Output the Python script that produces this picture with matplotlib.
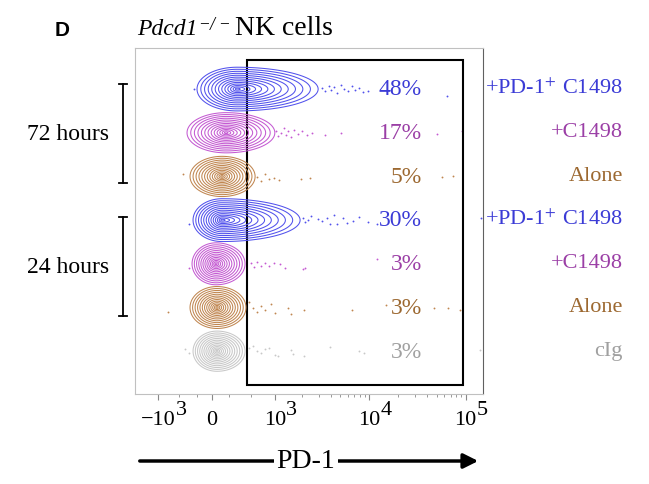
import numpy as np
import matplotlib
matplotlib.use('Agg')
import matplotlib.pyplot as plt
import matplotlib.transforms as mtransforms
from matplotlib.patches import Rectangle

plt.rcParams['font.family'] = 'Liberation Serif'
plt.rcParams['mathtext.fontset'] = 'stix'

# populations, top to bottom
labels = ['+PD-1$^{+}$ C1498', '+C1498', 'Alone', '+PD-1$^{+}$ C1498', '+C1498', 'Alone', 'cIg']
percents = ['48%', '17%', '5%', '30%', '3%', '3%', '3%']
line_colors = ['#5252ec', '#c45ad2', '#c08650', '#5252ec', '#c45ad2', '#c08650', '#c8c8c8']
text_colors = ['#3b3bd6', '#9b3fa6', '#9c6830', '#3b3bd6', '#9b3fa6', '#9c6830', '#a0a0a0']

# contour extents (PD-1): peak, left edge and right edge of outermost contour
peak = [297, 160, 113, 113, 45, 56, 56]
left_edge = [-202, -354, -306, -260, -275, -306, -260]
right_edge = [2940, 1000, 573, 1895, 410, 424, 410]
half_height = [0.50, 0.46, 0.46, 0.49, 0.48, 0.48, 0.46]

# single events outside the contours (PD-1 value, vertical offset in row)
dot_pd1 = [
    [-250, 3250, 3500, 3780, 4000, 4290, 4620, 5110, 5480, 6060, 6570, 7190, 7780, 8600, 9720, 63700],
    [1030, 1100, 1180, 1260, 1340, 1420, 1530, 1650, 1780, 1970, 2240, 2530, 3500, 5110, 49900, 92000],
    [-420, 600, 680, 760, 850, 976, 1120, 1930, 2420, 56300, 74000],
    [-330, 2030, 2150, 2320, 2500, 2950, 3250, 3600, 3950, 4290, 4620, 5300, 5900, 6800, 7780, 9720, 12100, 144000],
    [-330, 500, 550, 600, 680, 760, 850, 976, 1150, 1300, 2030, 2150, 12100],
    [-720, 470, 530, 600, 680, 760, 900, 1000, 1420, 1530, 2100, 6570, 14800, 47400, 66000, 87700],
    [-380, -330, 470, 530, 600, 680, 760, 850, 1000, 1100, 1530, 1600, 2100, 3950, 7780, 8900, 140000],
]
dot_dy = [
    [0.0, 0.02, -0.05, 0.08, -0.02, 0.05, -0.08, 0.1, 0.0, -0.05, 0.06, -0.03, 0.02, -0.07, -0.04, -0.15],
    [0.05, -0.08, 0.0, 0.1, -0.05, 0.03, -0.1, 0.07, -0.02, 0.04, -0.06, 0.0, -0.04, 0.0, -0.02, 0.03],
    [0.05, -0.02, -0.1, 0.05, -0.06, -0.03, -0.08, -0.05, -0.04, -0.02, 0.0],
    [-0.1, 0.05, -0.05, 0.0, 0.1, 0.02, -0.03, 0.06, -0.08, 0.12, -0.1, 0.04, -0.06, -0.02, 0.08, -0.04, -0.08, 0.05],
    [-0.1, 0.02, -0.08, 0.04, -0.04, 0.02, -0.06, 0.03, 0.0, -0.1, -0.12, -0.1, 0.12],
    [-0.1, 0.12, -0.02, -0.1, 0.03, -0.06, 0.08, -0.12, 0.0, -0.15, -0.05, -0.05, 0.05, 0.0, 0.0, -0.05],
    [0.05, -0.05, 0.08, 0.12, 0.0, -0.05, 0.04, 0.07, -0.08, -0.12, 0.02, -0.06, -0.12, 0.1, 0.0, -0.05, 0.02],
]

tick_vals = [-1000, 0, 1000, 1e4, 1e5]
tick_base = ['\u221210', '0', '10', '10', '10']
tick_exp = ['3', '', '3', '4', '5']
gate = (440, 94000)

# biexponential-like display: asinh, with negative side compressed
A = 470.0
NEG = 0.857


def fwd(x):
    x = np.asarray(x, dtype=float)
    u = np.arcsinh(x / A)
    return np.where(u < 0, u * NEG, u)


def inv(u):
    u = np.asarray(u, dtype=float)
    return np.where(u < 0, A * np.sinh(u / NEG), A * np.sinh(u))


R = 2.4
fig = plt.figure(figsize=(6.49, 4.84), dpi=100)
ax = fig.add_axes([135 / 649, 90 / 484, 348 / 649, 346 / 484])
ax.set_xscale('function', functions=(fwd, inv))

ut = np.linspace(-2.0, 6.6, 900)
yy = np.linspace(-0.75, 0.75, 260)
U, Y = np.meshgrid(ut, yy)
radii = R * (np.arange(13, 0, -1) / 13) ** 1.25
levels = np.sort(np.exp(-0.5 * radii ** 2))

n = len(labels)
for i in range(n):
    y0 = n - 1 - i
    c = fwd(peak[i])
    sl = (c - fwd(left_edge[i])) / R
    sr = (fwd(right_edge[i]) - c) / R
    sy = half_height[i] / R
    s = np.where(U < c, sl, sr)
    Z = np.exp(-0.5 * ((U - c) / s) ** 2 - 0.5 * (Y / sy) ** 2)
    ax.contour(inv(U), Y + y0, Z, levels=levels, colors=line_colors[i], linewidths=0.75)
    ax.scatter(dot_pd1[i], np.array(dot_dy[i]) + y0, s=1.8, color=line_colors[i], lw=0)

trans = mtransforms.blended_transform_factory(ax.transAxes, ax.transData)
for i in range(n):
    y0 = n - 1 - i
    ax.text(0.825, y0 - 0.02, percents[i], ha='right', va='center', color=text_colors[i],
            fontsize=17, transform=trans)
    ax.text(1.402, y0, labels[i], ha='right', va='center', color=text_colors[i],
            fontsize=16, transform=trans, clip_on=False)

ax.add_patch(Rectangle((gate[0], -0.78), gate[1] - gate[0], 7.44, fill=False, ec='k', lw=1.5))

# time brackets
for top, bot, txt in [(6.12, 3.85, '72 hours'), (3.07, 0.80, '24 hours')]:
    ax.plot([-0.0345, -0.0345], [top, bot], color='k', lw=1.3, transform=trans, clip_on=False)
    for yb in (top, bot):
        ax.plot([-0.045, -0.022], [yb, yb], color='k', lw=1.3, transform=trans, clip_on=False)
    ax.text(-0.1925, (top + bot) / 2 - 0.02, txt, ha='center', va='center', fontsize=17,
            transform=trans)

ax.set_xlim(-1980, 151400)
ax.set_ylim(-0.98, 6.94)
ax.set_yticks([])
ax.set_xticks(tick_vals, labels=[''] * len(tick_vals))
minor = [-500, -200, 200, 500] + [k * 10 ** e for e in (3, 4) for k in range(2, 10)]
ax.set_xticks(minor, minor=True)
ax.tick_params(axis='x', which='major', length=4, color='#888888')
ax.tick_params(axis='x', which='minor', length=2, color='#888888')
for side in ['left', 'top', 'bottom']:
    ax.spines[side].set_color('#c0c0c0')
ax.spines['right'].set_color('#606060')

# tick labels with full-size exponents
xt = ax.get_xaxis_transform()
bases = []
for v, b in zip(tick_vals, tick_base):
    bases.append(ax.text(v, -31 / 346, b, ha='center', va='baseline', fontsize=16,
                         transform=xt, clip_on=False))
fig.canvas.draw()
rend = fig.canvas.get_renderer()
for t, e in zip(bases, tick_exp):
    if e:
        bb = t.get_window_extent(rend)
        fig.text(bb.x1 / fig.bbox.width, (bb.y0 + 15) / fig.bbox.height, e,
                 fontsize=16, va='baseline')

# axis arrow
ya = 1 - 461 / 484
ax.annotate('', xy=(481 / 649, ya), xytext=(137 / 649, ya), xycoords='figure fraction',
            textcoords='figure fraction',
            arrowprops=dict(arrowstyle='-|>', lw=2.5, color='k', mutation_scale=22))
fig.text(306 / 649, ya, 'PD-1', ha='center', va='center', fontsize=20,
         bbox=dict(fc='white', ec='none', pad=2))

# title pieces
tb = 1 - 35 / 484
fig.text(137 / 649, tb, 'Pdcd1', fontsize=17, style='italic', va='baseline')
fig.text(199 / 649, 1 - 28 / 484, '\u2212', fontsize=12.5, va='baseline')
fig.text(210 / 649, 1 - 30 / 484, '/', fontsize=13, style='italic', va='baseline')
fig.text(219 / 649, 1 - 28 / 484, '\u2212', fontsize=12.5, va='baseline')
fig.text(235 / 649, tb, 'NK cells', fontsize=20, va='baseline')
fig.text(62 / 649, 1 - 31 / 484, 'D', family='Liberation Sans', fontweight='bold',
         fontsize=15, ha='center', va='center')

fig.savefig('out.png', dpi=100)
